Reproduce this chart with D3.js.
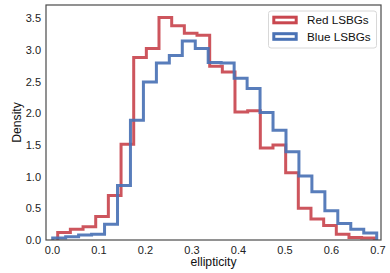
<!DOCTYPE html>
<html><head><meta charset="utf-8">
<script src="https://cdn.jsdelivr.net/npm/d3@7"></script>
<style>html,body{margin:0;padding:0;background:#fff;}svg{display:block;font-family:"Liberation Sans",Arial,sans-serif;}</style>
</head><body>
<svg id="c" width="390" height="273"></svg>
<script>
const redEdges = [0.0123,0.0395,0.0668,0.0940,0.1212,0.1485,0.1757,0.2029,0.2301,0.2574,0.2846,0.3118,0.3391,0.3663,0.3935,0.4208,0.4480,0.4752,0.5025,0.5297,0.5569,0.5842,0.6114,0.6386,0.6659,0.6931];
const redDensity = [0.12,0.17,0.21,0.37,0.70,1.51,2.88,3.02,3.51,3.38,3.26,3.23,2.74,2.65,2.02,2.04,1.45,1.50,1.06,0.50,0.33,0.23,0.09,0.04,0.03];
const blueEdges = [0.0015,0.0294,0.0572,0.0851,0.1130,0.1409,0.1687,0.1966,0.2245,0.2523,0.2802,0.3081,0.3359,0.3638,0.3917,0.4196,0.4474,0.4753,0.5032,0.5310,0.5589,0.5868,0.6146,0.6425,0.6704,0.6983];
const blueDensity = [0.03,0.05,0.08,0.09,0.25,0.86,1.89,2.49,2.79,2.91,3.14,3.02,2.80,2.79,2.55,2.39,2.01,1.73,1.39,1.01,0.76,0.46,0.26,0.17,0.11];
const seriesNames = ["Red LSBGs","Blue LSBGs"];
const xTicks = [0.0,0.1,0.2,0.3,0.4,0.5,0.6,0.7];
const yTicks = [0.0,0.5,1.0,1.5,2.0,2.5,3.0,3.5];

const L=46,R=381,T=5,B=240;
const svg=d3.select("#c");
const x=d3.scaleLinear().domain([-0.0129,0.7075]).range([L,R]);
const y=d3.scaleLinear().domain([0,3.706]).range([B,T]);

function stepPath(edges,vals){
  const p=d3.path();
  p.moveTo(x(edges[0]),y(0));
  vals.forEach((v,i)=>{p.lineTo(x(edges[i]),y(v));p.lineTo(x(edges[i+1]),y(v));});
  p.lineTo(x(edges[edges.length-1]),y(0));
  return p.toString();
}
const colors=["#c9474f","#4a72b5"];
const series=[[redEdges,redDensity],[blueEdges,blueDensity]];
const g=svg.append("g");
series.forEach((s,i)=>{
  g.append("path").attr("d",stepPath(s[0],s[1])).attr("fill","none")
   .attr("stroke",colors[i]).attr("stroke-width",3).attr("stroke-linejoin","miter").attr("stroke-opacity",0.92);
});

// frame
svg.append("rect").attr("x",L).attr("y",T).attr("width",R-L).attr("height",B-T)
  .attr("fill","none").attr("stroke","#4a4a4a").attr("stroke-width",1.2);

// axes
const xa=svg.append("g").attr("transform",`translate(0,${B})`)
  .call(d3.axisBottom(x).tickValues(xTicks).tickFormat(d3.format(".1f")).tickSize(0).tickPadding(6));
const ya=svg.append("g").attr("transform",`translate(${L},0)`)
  .call(d3.axisLeft(y).tickValues(yTicks).tickFormat(d3.format(".1f")).tickSize(0).tickPadding(5));
[xa,ya].forEach(a=>{a.select(".domain").remove();a.selectAll("text").attr("font-size",11).attr("fill","#222").attr("font-family","Liberation Sans, Arial, sans-serif");});

svg.append("text").attr("x",(L+R)/2).attr("y",266).attr("text-anchor","middle")
  .attr("font-size",12.2).attr("fill","#111").text("ellipticity");
svg.append("text").attr("transform",`translate(21,${(T+B)/2}) rotate(-90)`).attr("text-anchor","middle")
  .attr("font-size",12.2).attr("fill","#111").text("Density");

// legend
const lg=svg.append("g");
lg.append("rect").attr("x",268.5).attr("y",11).attr("width",108).attr("height",37).attr("rx",2.5)
  .attr("fill","#fff").attr("fill-opacity",0.8).attr("stroke","#d8d8d8").attr("stroke-width",1);
seriesNames.forEach((n,i)=>{
  const cy=20+i*16.5;
  lg.append("rect").attr("x",273.8).attr("y",cy-2.8).attr("width",22.4).attr("height",5.6)
    .attr("fill","none").attr("stroke",colors[i]).attr("stroke-width",3);
  lg.append("text").attr("x",307).attr("y",cy+4.1).attr("font-size",11.7).attr("fill","#111").text(n);
});
</script>
</body></html>
